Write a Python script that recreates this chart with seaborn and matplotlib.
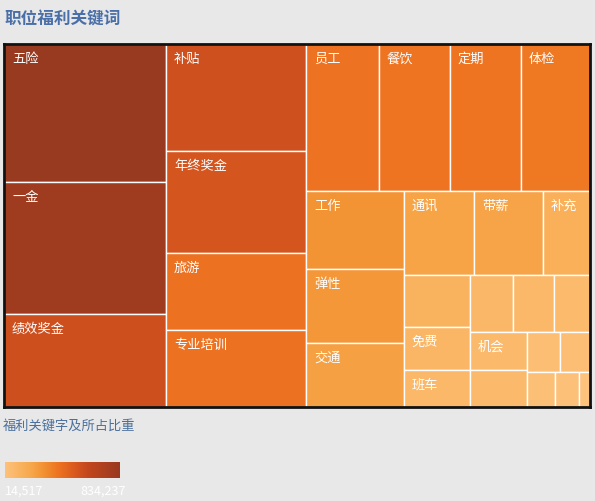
import matplotlib
matplotlib.use("Agg")
import matplotlib.pyplot as plt
import seaborn as sns
import numpy as np
from matplotlib.colors import LinearSegmentedColormap, Normalize
from matplotlib.patches import Rectangle

sns.set_theme(style="white")
plt.rcParams['font.family'] = ['Noto Sans CJK SC', 'DejaVu Sans']

keywords = ["五险", "一金", "绩效奖金", "补贴", "年终奖金", "旅游", "专业培训",
            "员工", "餐饮", "定期", "体检", "工作", "弹性", "交通",
            "通讯", "带薪", "补充", "包住", "免费", "班车",
            "包吃", "节日", "双休", "机会", "加班", "饭补", "房补", "交补", "出国", "股票"]
labels = ["五险", "一金", "绩效奖金", "补贴", "年终奖金", "旅游", "专业培训",
          "员工", "餐饮", "定期", "体检", "工作", "弹性", "交通",
          "通讯", "带薪", "补充", "", "免费", "班车",
          "", "", "", "机会", "", "", "", "", "", ""]
counts = [834237, 797600, 561900, 558700, 532600, 402100, 402000,
          400300, 389300, 389300, 378300, 285100, 270500, 233900,
          219300, 216200, 147300, 128000, 105900, 91100,
          91400, 87200, 76500, 80800, 78700, 49200, 44800, 37900, 31300, 14517]
# number of items in each successive strip of the treemap
strips = [3, 4, 4, 3, 3, 3, 3, 2, 2, 3]

W, H = 586.0, 363.0

def strip_layout(areas, groups, x, y, w, h):
    rects = []
    i = 0
    for gi, n in enumerate(groups):
        row = areas[i:i + n]; i += n
        s = sum(row)
        last = gi == len(groups) - 1
        vertical = (w >= h) != last
        if vertical:
            cw = s / h if not last else w
            cy = y
            for a in row:
                rh = a / s * h
                rects.append((x, cy, cw, rh)); cy += rh
            x += cw; w -= cw
        else:
            rh = s / w if not last else h
            cx = x
            for a in row:
                rw = a / s * w
                rects.append((cx, y, rw, rh)); cx += rw
            y += rh; h -= rh
    return rects

total = sum(counts)
areas = [v / total * W * H for v in counts]
rects = strip_layout(areas, strips, 0, 0, W, H)

cmap = LinearSegmentedColormap.from_list("w", [
    (0.0, "#fdc27c"), (0.22, "#f7a94c"), (0.33, "#f29334"), (0.46, "#ee7421"),
    (0.6, "#db5a1f"), (0.72, "#c3471e"), (1.0, "#983a20")])
norm = Normalize(min(counts), max(counts))

fig = plt.figure(figsize=(5.95, 5.01), dpi=100)
fig.patch.set_facecolor("#e8e8e8")
ax = fig.add_axes([4 / 595, (501 - 407) / 501, W / 595, H / 501])
ax.set_xlim(0, W); ax.set_ylim(H, 0)
ax.set_xticks([]); ax.set_yticks([])
for sp in ax.spines.values():
    sp.set_color("#111111"); sp.set_linewidth(2)
for (x, y, w, h), v, lab in zip(rects, counts, labels):
    ax.add_patch(Rectangle((x, y), w, h, facecolor=cmap(norm(v)), edgecolor="white", lw=1))
    if lab:
        ax.text(x + 8, y + 9, lab, color="white", fontsize=9.5, va="top", ha="left")

fig.text(5 / 595, 1 - 20 / 501, "职位福利关键词", fontsize=12, fontweight="bold",
         color="#4a6fa8", va="center")
fig.text(3 / 595, 1 - 426 / 501, "福利关键字及所占比重", fontsize=9.5,
         color="#4a6f9c", va="center")

cax = fig.add_axes([5 / 595, 1 - 478 / 501, 115 / 595, 16 / 501])
grad = np.linspace(0, 1, 256).reshape(1, -1)
cax.imshow(grad, aspect="auto", cmap=cmap)
cax.set_axis_off()
fig.text(5 / 595, 1 - 491 / 501, "{:,}".format(min(counts)), fontsize=9, color="white", va="center")
fig.text(80 / 595, 1 - 491 / 501, "{:,}".format(max(counts)), fontsize=9, color="white", va="center")

fig.savefig("out.png", dpi=100, facecolor=fig.get_facecolor())
